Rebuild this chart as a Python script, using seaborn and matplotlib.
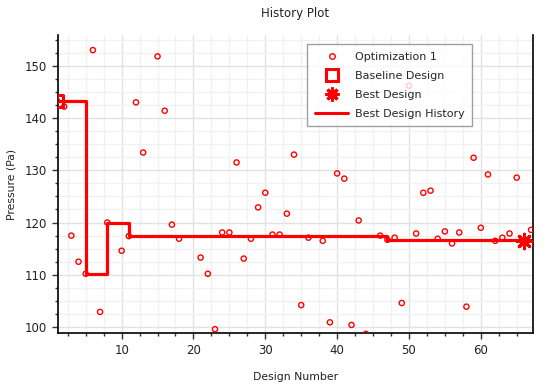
import matplotlib
matplotlib.use("Agg")
import matplotlib.pyplot as plt
from matplotlib.lines import Line2D
from matplotlib.ticker import MultipleLocator
import seaborn as sns

# design numbers and pressure
design = [1, 2, 3, 4, 5, 6, 7, 8, 10, 11, 12, 13, 15, 16, 17, 18, 21, 22, 23, 24,
          25, 26, 27, 28, 29, 30, 31, 32, 33, 34, 35, 36, 38, 39, 40, 41, 42, 43, 44,
          46, 47, 48, 49, 50, 51, 52, 53, 54, 55, 56, 57, 58, 59, 60, 61, 62, 63, 64,
          65, 66, 67]
pressure = [143.3, 142.2, 117.5, 112.5, 110.2, 153.0, 102.9, 120.0, 114.6, 117.4,
            143.0, 133.4, 151.8, 141.4, 119.6, 116.9, 113.3, 110.2, 99.6, 118.1,
            118.1, 131.5, 113.1, 116.9, 122.9, 125.7, 117.7, 117.7, 121.7, 133.0,
            104.2, 117.1, 116.5, 100.9, 129.4, 128.4, 100.4, 120.4, 98.7,
            117.5, 116.7, 117.1, 104.6, 146.2, 117.9, 125.7, 126.1, 116.9, 118.3,
            116.0, 118.1, 103.9, 132.4, 119.0, 129.2, 116.5, 117.1, 117.9,
            128.6, 116.5, 118.6]

baseline_x = [1]
baseline_y = [143.3]
best_x = [66]
best_y = [116.5]

history_x = [1, 5, 8, 11, 47, 67]
history_y = [143.3, 110.2, 120.0, 117.5, 116.7, 116.7]

sns.set_theme(style="ticks")
plt.rcParams["font.family"] = ["DejaVu Sans"]

fig = plt.figure(figsize=(5.52, 3.84), dpi=100)
ax = fig.add_axes([0.1045, 0.132, 0.8615, 0.777])

red = "#ff0000"

sns.lineplot(x=history_x, y=history_y, drawstyle="steps-post", color=red,
             linewidth=2.3, ax=ax, zorder=2, estimator=None, sort=False)
sns.scatterplot(x=design, y=pressure, marker="o", s=14, facecolors="none",
                edgecolor=red, linewidth=1.0, ax=ax, zorder=3)
sns.scatterplot(x=baseline_x, y=baseline_y, marker="s", s=70, facecolors="none",
                edgecolor=red, linewidth=2.2, ax=ax, zorder=4)
sns.scatterplot(x=best_x, y=best_y, marker=(8, 2, 0), s=110, color=red,
                edgecolor=red, linewidth=2.2, ax=ax, zorder=4)

ax.set_xlim(1.1, 67.3)
ax.set_ylim(98.8, 155.9)
ax.xaxis.set_major_locator(MultipleLocator(10))
ax.xaxis.set_minor_locator(MultipleLocator(2.5))
ax.yaxis.set_major_locator(MultipleLocator(10))
ax.yaxis.set_minor_locator(MultipleLocator(2.5))

ax.grid(which="major", color="#e2e2e2", linewidth=1.0)
ax.grid(which="minor", color="#f1f1f1", linewidth=1.0)
ax.set_axisbelow(True)

for side in ["left", "bottom", "right"]:
    ax.spines[side].set_color("black")
    ax.spines[side].set_linewidth(1.2)
ax.spines["top"].set_visible(False)

ax.tick_params(which="major", length=4, width=1, color="#333333",
               labelsize=8.5, labelcolor="#222222")
ax.tick_params(which="minor", length=2.5, width=1, color="#333333")

ax.set_title("History Plot", fontsize=8.5, color="#222222", pad=13)
ax.set_xlabel("Design Number", fontsize=7.8, color="#222222", labelpad=11)
ax.set_ylabel("Pressure (Pa)", fontsize=7.8, color="#222222", labelpad=6)

handles = [
    Line2D([], [], linestyle="none", marker="o", markersize=4, markerfacecolor="none",
           markeredgecolor=red, markeredgewidth=1.0),
    Line2D([], [], linestyle="none", marker="s", markersize=9, markerfacecolor="none",
           markeredgecolor=red, markeredgewidth=2.2),
    Line2D([], [], linestyle="none", marker=(8, 2, 0), markersize=10,
           markeredgecolor=red, markeredgewidth=2.2),
    Line2D([], [], color=red, linewidth=2.2),
]
labels = ["Optimization 1", "Baseline Design", "Best Design", "Best Design History"]
leg = ax.legend(handles, labels, loc="upper right", bbox_to_anchor=(0.872, 0.969),
                borderaxespad=0, fontsize=8, fancybox=False, framealpha=0.8,
                edgecolor="#888888", handlelength=3.0, handletextpad=0.6,
                labelspacing=0.8, borderpad=0.7)
leg.get_frame().set_linewidth(1.0)

fig.savefig("out.png", dpi=100)
plt.close(fig)
